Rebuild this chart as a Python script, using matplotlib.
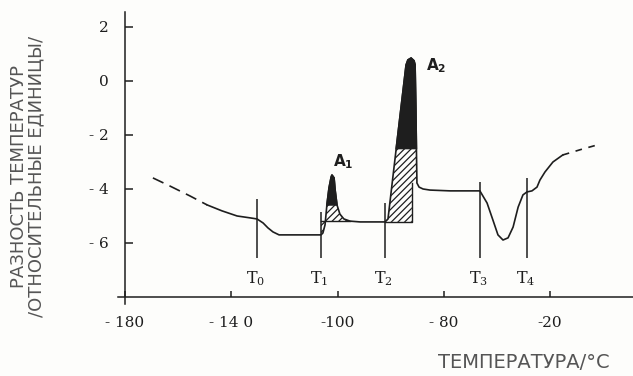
import numpy as np
import matplotlib.pyplot as plt

# DTA trace: temperature difference vs temperature
lead_temp = [-169.5, -163.1, -155.5, -149.1]
lead_diff = [-3.59, -3.89, -4.26, -4.59]

temp = [-149.1, -143.5, -137.8, -132.9, -130.3, -128.0, -126.2, -124.3, -122.0, -114.1, -106.2,
        -105.5, -104.7, -104.0, -103.2, -102.4, -102.1, -101.3, -100.9, -100.2, -99.1, -97.6, -95.3,
        -91.5, -82.1, -81.0, -77.9, -74.2, -73.5, -72.3, -71.2, -70.8, -70.5, -70.3, -70.1, -69.3,
        -67.8, -65.2, -57.6, -46.4, -43.7, -41.5, -39.6, -37.7, -35.8, -33.9, -32.0, -30.2, -28.7,
        -26.8, -24.9, -23.8, -21.9, -18.9, -15.2]
diff = [-4.59, -4.81, -5.00, -5.07, -5.11, -5.26, -5.44, -5.59, -5.70, -5.70, -5.70,
        -5.63, -5.33, -4.59, -3.96, -3.56, -3.48, -3.59, -4.04, -4.59, -4.93, -5.11, -5.19,
        -5.22, -5.22, -5.11, -2.50, 0.59, 0.78, 0.85, 0.75, 0.60, -1.00, -2.50, -3.78, -3.93,
        -4.00, -4.04, -4.07, -4.07, -4.52, -5.15, -5.70, -5.89, -5.81, -5.41, -4.67, -4.22, -4.11,
        -4.07, -3.93, -3.67, -3.37, -3.00, -2.74]

tail_temp = [-15.2, -8.1, -1.2]
tail_diff = [-2.74, -2.53, -2.34]

# transition temperatures and the extent of their marker lines
t_names = ['T_0', 'T_1', 'T_2', 'T_3', 'T_4']
t_temp = [-130.3, -106.2, -82.1, -46.4, -28.7]
t_top = [-4.37, -4.85, -4.52, -3.74, -3.59]
t_bottom = -6.55

# peak areas
a1_range = (-106.2, -95.3)
a1_base = -5.2
a1_dark = (-104.0, -100.2)
a2_range = (-82.1, -70.1)
a2_base = -5.22
a2_cut = -72.0
a2_dark = (-77.9, -70.3)

xticks = [-180, -140, -100, -60, -20]
xtick_labels = ['- 180', '- 14 0', '-100', '- 80', '-20']
yticks = [2, 0, -2, -4, -6]
ytick_labels = ['2', '0', '- 2', '- 4', '- 6']

ink = '#1e1e1e'
plt.rcParams['hatch.linewidth'] = 0.9
plt.rcParams['hatch.color'] = ink

fig = plt.figure(figsize=(6.33, 3.76), dpi=100, facecolor='#fdfdfb')
ax = fig.add_axes([0.1807, 0.1886, 0.8204, 0.7899])
ax.set_facecolor('none')
ax.set_xlim(-184, 11.5)
ax.set_ylim(-8.3, 2.7)

t = np.array(temp)
d = np.array(diff)

# hatched peak areas
m1 = (t >= a1_range[0]) & (t <= a1_range[1])
ax.fill(np.r_[t[m1], a1_range[1], a1_range[0]], np.r_[d[m1], a1_base, a1_base],
        facecolor='none', edgecolor=ink, hatch='/////', lw=0)
ax.plot(a1_range, [a1_base, a1_base], color=ink, lw=1.0)

m2 = (t >= a2_range[0]) & (t <= a2_range[1])
ax.fill(np.r_[t[m2], a2_cut, a2_cut, a2_range[0]],
        np.r_[d[m2], d[m2][-1], a2_base, a2_base],
        facecolor='none', edgecolor=ink, hatch='/////', lw=0)
ax.plot([a2_range[0], a2_cut, a2_cut], [a2_base, a2_base, d[m2][-1]], color=ink, lw=1.0)

# solid tops of the peaks
for lo, hi in (a1_dark, a2_dark):
    m = (t >= lo) & (t <= hi)
    ax.fill(t[m], d[m], color=ink, lw=1.2)

ax.plot(lead_temp, lead_diff, color=ink, lw=1.2, dashes=(7, 4))
ax.plot(temp, diff, color=ink, lw=1.2)
ax.plot(tail_temp, tail_diff, color=ink, lw=1.2, dashes=(4, 4))

ax.vlines(t_temp, t_bottom, t_top, color=ink, lw=1.1)
for name, x in zip(t_names, t_temp):
    ax.annotate(r'$\mathregular{%s}$' % name, (x, t_bottom), xytext=(-1, -8),
                textcoords='offset points', ha='center', va='top',
                fontsize=11.5, family='DejaVu Serif', color=ink)

i1 = int(np.argmax(np.where(t < -90, d, -99)))
i2 = int(np.argmax(d))
ax.annotate(r'$\mathregular{A_1}$', (temp[i1], diff[i1]), xytext=(1, 3),
            textcoords='offset points', ha='left', va='bottom',
            fontsize=11, family='DejaVu Sans', weight='bold', color=ink)
ax.annotate(r'$\mathregular{A_2}$', (temp[i2], diff[i2]), xytext=(11, -12),
            textcoords='offset points', ha='left', va='bottom',
            fontsize=11, family='DejaVu Sans', weight='bold', color=ink)

# axes drawn as crossing lines
for side in ('top', 'right'):
    ax.spines[side].set_visible(False)
ax.spines['left'].set_position(('data', -180))
ax.spines['bottom'].set_position(('data', -8))
ax.spines['left'].set_bounds(-8.25, 2.55)
ax.spines['bottom'].set_bounds(-182.6, 11.5)
for side in ('left', 'bottom'):
    ax.spines[side].set_color(ink)
    ax.spines[side].set_linewidth(1.1)

ax.set_xticks(xticks)
ax.set_xticklabels(xtick_labels)
ax.set_yticks(yticks)
ax.set_yticklabels(ytick_labels)
ax.tick_params(axis='y', direction='in', length=6, width=1.1, pad=12, colors=ink,
               labelsize=11)
ax.tick_params(axis='x', direction='in', length=4, width=1.1, pad=14, colors=ink,
               labelsize=11)
for lab in ax.get_xticklabels() + ax.get_yticklabels():
    lab.set_family('DejaVu Serif')

fig.text(19 / 633, 1 - 177 / 376, 'РАЗНОСТЬ ТЕМПЕРАТУР', rotation=90,
         ha='center', va='center', fontsize=13, color='#555555')
fig.text(36 / 633, 1 - 176 / 376, '/ОТНОСИТЕЛЬНЫЕ ЕДИНИЦЫ/', rotation=90,
         ha='center', va='center', fontsize=13, color='#555555')
fig.text(438 / 633, 1 - 363 / 376, 'ТЕМПЕРАТУРА/°С', ha='left', va='center',
         fontsize=14, color='#555555')

fig.savefig('out.png', dpi=100, facecolor=fig.get_facecolor())
